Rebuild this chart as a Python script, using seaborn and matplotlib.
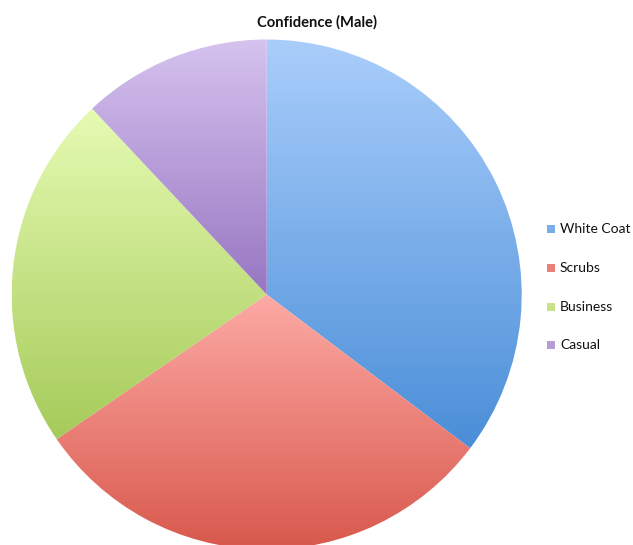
import numpy as np
import matplotlib
matplotlib.use("Agg")
import matplotlib.pyplot as plt
import seaborn as sns
from matplotlib.patches import Rectangle

# ---- data ----
categories = ["White Coat", "Scrubs", "Business", "Casual"]
values = [35.3, 30.1, 22.6, 12.0]
title = "Confidence (Male)"

# per-slice gradient colours (top -> bottom)
top_colors = ["#aacefb", "#fdaaa5", "#e6fbb3", "#d6c3ef"]
bottom_colors = ["#4a8ed8", "#d8584c", "#a6cb5a", "#9876c2"]

sns.set_theme(style="white")
plt.rcParams['font.family'] = ['Lato', 'DejaVu Sans']

W, H = 633, 545
fig = plt.figure(figsize=(W / 100, H / 100), dpi=100)
fig.patch.set_facecolor("white")

cx, cy, r = 266.7, 294.5, 255
ax = fig.add_axes([(cx - r) / W, (H - cy - r) / H, 2 * r / W, 2 * r / H])
wedges, _ = ax.pie(values, startangle=90, counterclock=False, radius=1,
                   center=(0, 0))
grad = np.linspace(0, 1, 256).reshape(-1, 1)
for w, tc, bc in zip(wedges, top_colors, bottom_colors):
    w.set_facecolor("none")
    w.set_edgecolor("none")
    verts = w.get_path().vertices
    ymin, ymax = verts[:, 1].min(), verts[:, 1].max()
    cmap = sns.blend_palette([tc, bc], n_colors=256, as_cmap=True)
    im = ax.imshow(grad, cmap=cmap, extent=(-1.01, 1.01, ymin, ymax),
                   origin="upper", aspect="auto", interpolation="bilinear")
    im.set_clip_path(w)
ax.set_aspect("auto")
ax.set_xlim(-1, 1)
ax.set_ylim(-1, 1)
ax.axis("off")

fig.text(317 / W, 1 - 22.5 / H, title, ha="center", va="center",
         fontsize=10.6, fontweight="bold", color="#111111")

# legend
ys = [229, 268, 307, 345]
for lab, y, tc, bc in zip(categories, ys, top_colors, bottom_colors):
    mid = sns.blend_palette([tc, bc], n_colors=3)[1]
    fig.patches.append(Rectangle(((547) / W, 1 - (y + 4) / H), 8 / W, 8 / H,
                                 transform=fig.transFigure, facecolor=mid,
                                 edgecolor="none"))
    fig.text(560 / W, 1 - y / H, lab, ha="left", va="center",
             fontsize=10, color="#111111")

fig.savefig("out.png", dpi=100)
